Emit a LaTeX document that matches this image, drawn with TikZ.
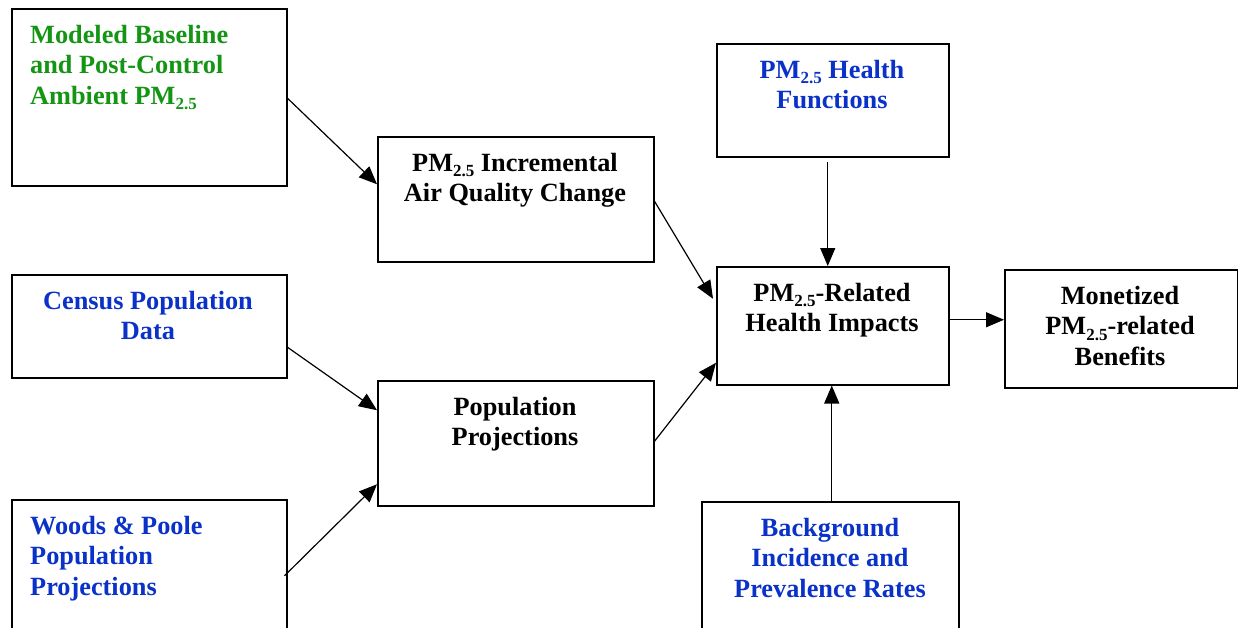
\documentclass[tikz,border=0pt]{standalone}
\usepackage{fontspec}
\setmainfont{Liberation Serif}
\usetikzlibrary{arrows.meta,calc}
\definecolor{fgreen}{RGB}{20,150,20}
\definecolor{fblue}{RGB}{10,50,200}
\newcommand{\pmtf}{PM\raisebox{-0.45ex}{\fontsize{17}{17}\selectfont 2.5}}
\begin{document}
\begin{tikzpicture}[x=1pt,y=-1pt,
  box/.style={draw, line width=1.5pt, inner sep=0pt, anchor=north west},
  txt/.style={inner sep=0pt, anchor=north, align=center, font=\fontsize{26.3}{30.5}\selectfont\bfseries},
  ltxt/.style={txt, anchor=north west, align=left},
  arr/.style={line width=1.2pt, -{Triangle[length=18pt,width=15pt]}}]
\clip (0,0) rectangle (1238,627);
\fill[white] (0,0) rectangle (1238,627);
% boxes
\node[box, minimum width=275, minimum height=177] (mod) at (11,8) {};
\node[box, minimum width=276, minimum height=125] (inc) at (377,136) {};
\node[box, minimum width=232, minimum height=113] (hf) at (716,43) {};
\node[box, minimum width=232, minimum height=118] (rel) at (716,266) {};
\node[box, minimum width=233, minimum height=118] (mon) at (1004,269) {};
\node[box, minimum width=275, minimum height=103] (cen) at (11,274) {};
\node[box, minimum width=276, minimum height=125] (pop) at (377,380) {};
\node[box, minimum width=275, minimum height=140] (woo) at (11,499) {};
\node[box, minimum width=257, minimum height=140] (bg) at (701,501) {};
% texts
\node[ltxt, text=fgreen] (tmod) at (30,25) {Modeled Baseline\\and Post-Control\\Ambient \pmtf};
\node[txt] (tinc) at (515,153) {\pmtf{} Incremental\\Air Quality Change};
\node[txt, text=fblue] (thf) at (832,60) {\pmtf{} Health\\Functions};
\node[txt] (trel) at (832,283) {\pmtf-Related\\Health Impacts};
\node[txt] (tmon) at (1120,286) {Monetized\\\pmtf-related\\Benefits};
\node[txt, text=fblue] (tcen) at (148,291) {Census Population\\Data};
\node[txt] (tpop) at (515,397) {Population\\Projections};
\node[ltxt, text=fblue] (twoo) at (30,516) {Woods \& Poole\\Population\\Projections};
\node[txt, text=fblue] (tbg) at (830,518) {Background\\Incidence and\\Prevalence Rates};
% arrows
\draw[arr] ($(mod.east)+(0,1)$) -- ($(inc.west)+(0,-15)$);
\draw[arr] ($(inc.east)+(0,2)$) -- ($(rel.west)+(-3,-27)$);
\draw[arr] ($(pop.east)+(0,-2)$) -- ($(rel.west)+(0,37)$);
\draw[arr] ($(cen.east)+(0,21)$) -- ($(pop.west)+(0,-33)$);
\draw[arr] ($(woo.east)+(-3,6)$) -- ($(pop.west)+(0,41)$);
\draw[arr] ($(hf.south)+(-5,4)$) -- ($(rel.north)+(-5,0)$);
\draw[arr] ($(bg.north)+(1.5,0)$) -- ($(rel.south)+(-1,0)$);
\draw[arr] ($(rel.east)+(0,-6)$) -- ($(mon.west)+(0,-9)$);
\end{tikzpicture}
\end{document}
